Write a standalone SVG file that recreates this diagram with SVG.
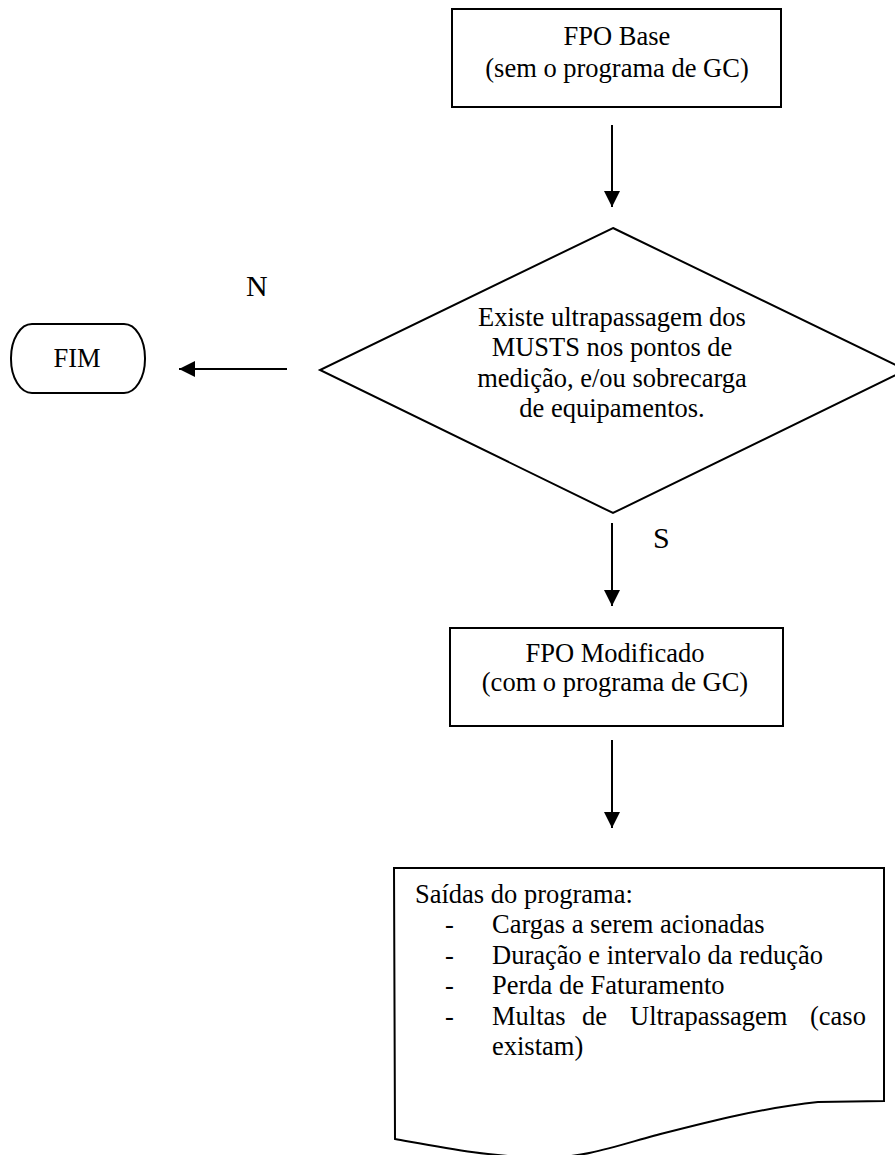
<svg xmlns="http://www.w3.org/2000/svg" width="895" height="1155" viewBox="0 0 895 1155">
  <style>
    .shape { fill: #ffffff; stroke: #000000; stroke-width: 2; }
    .txt { font-family: "Liberation Serif", "Times New Roman", serif; font-size: 26.5px; fill: #000000; }
    .mid { text-anchor: middle; }
    .lbl { font-family: "Liberation Serif", "Times New Roman", serif; font-size: 30px; fill: #000000; }
    .conn { stroke: #000000; stroke-width: 2; fill: none; }
  </style>
  <defs>
    <marker id="arrow" markerUnits="userSpaceOnUse" markerWidth="16" markerHeight="16" refX="16" refY="8" orient="auto">
      <path d="M0,0 L16,8 L0,16 Z" fill="#000000"/>
    </marker>
  </defs>
  <rect width="895" height="1155" fill="#ffffff"/>

  <!-- start: base power flow -->
  <g id="fpo-base">
    <rect class="shape" x="452" y="9" width="329" height="98"/>
    <text class="txt mid" x="617" y="45">FPO Base</text>
    <text class="txt mid" x="617" y="77">(sem o programa de GC)</text>
  </g>

  <!-- decision -->
  <g id="decisao">
    <polygon class="shape" points="613,228 906,370 613,513 320,370"/>
    <text class="txt mid" x="612" y="326">Existe ultrapassagem dos</text>
    <text class="txt mid" x="612" y="356">MUSTS nos pontos de</text>
    <text class="txt mid" x="612" y="387">medição, e/ou sobrecarga</text>
    <text class="txt mid" x="612" y="417">de equipamentos.</text>
  </g>

  <!-- end terminator -->
  <g id="fim">
    <rect class="shape" x="11" y="324" width="134" height="69" rx="21" ry="34"/>
    <text class="txt mid" x="77" y="367">FIM</text>
  </g>

  <!-- modified power flow -->
  <g id="fpo-modificado">
    <rect class="shape" x="450" y="628" width="333" height="98"/>
    <text class="txt mid" x="615" y="662">FPO Modificado</text>
    <text class="txt mid" x="615" y="691">(com o programa de GC)</text>
  </g>

  <!-- program outputs (document shape) -->
  <g id="saidas">
    <path class="shape" d="M394,868 H884 V1101 L818,1102 C760,1108 700,1124 653,1136 C610,1148 585,1157 545,1158 C490,1157 440,1147 395,1139 Z"/>
    <text class="txt" x="415" y="903">Saídas do programa:</text>
    <text class="txt" x="445" y="933">-</text>
    <text class="txt" x="492" y="933">Cargas a serem acionadas</text>
    <text class="txt" x="445" y="964">-</text>
    <text class="txt" x="492" y="964">Duração e intervalo da redução</text>
    <text class="txt" x="445" y="994">-</text>
    <text class="txt" x="492" y="994">Perda de Faturamento</text>
    <text class="txt" x="445" y="1025">-</text>
    <text class="txt" y="1025"><tspan x="492">Multas</tspan><tspan x="582">de</tspan><tspan x="630">Ultrapassagem</tspan><tspan x="810">(caso</tspan></text>
    <text class="txt" x="492" y="1055">existam)</text>
  </g>

  <!-- connectors -->
  <g id="conectores">
    <line class="conn" x1="612" y1="125" x2="612" y2="207" marker-end="url(#arrow)"/>
    <line class="conn" x1="287" y1="369" x2="179" y2="369" marker-end="url(#arrow)"/>
    <line class="conn" x1="612" y1="523" x2="612" y2="606" marker-end="url(#arrow)"/>
    <line class="conn" x1="612" y1="740" x2="612" y2="828" marker-end="url(#arrow)"/>
    <text class="lbl" x="246" y="296">N</text>
    <text class="lbl" x="653" y="548">S</text>
  </g>
</svg>
